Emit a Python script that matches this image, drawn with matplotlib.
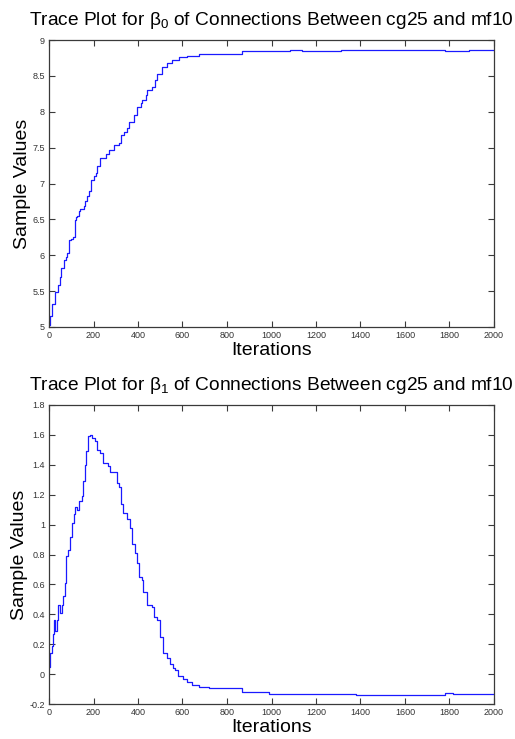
import matplotlib
matplotlib.use("Agg")
import matplotlib.pyplot as plt

plt.rcParams["font.family"] = ["Liberation Sans", "DejaVu Sans"]
plt.rcParams["mathtext.fontset"] = "custom"
plt.rcParams["mathtext.rm"] = "Liberation Sans"
plt.rcParams["mathtext.it"] = "Liberation Sans"

# Metropolis trace for beta_0: iterations where the chain moved, and the new value
b0_iter = [0, 5, 14, 27, 40, 49, 54, 67, 75, 82, 91, 99, 106, 115, 120, 126, 134,
           141, 156, 164, 172, 179, 191, 200, 209, 216, 231, 254, 270, 292, 315,
           322, 335, 352, 360, 382, 397, 412, 420, 435, 442, 465, 478, 487, 510,
           532, 555, 585, 622, 675, 866, 985, 1083, 1137, 1312, 1780, 1888, 2000]
b0_vals = [5.03, 5.15, 5.32, 5.49, 5.58, 5.70, 5.82, 5.93, 5.98, 6.03, 6.21, 6.23,
           6.25, 6.49, 6.53, 6.55, 6.62, 6.65, 6.68, 6.76, 6.83, 6.90, 7.05, 7.10,
           7.15, 7.25, 7.35, 7.41, 7.46, 7.53, 7.57, 7.68, 7.72, 7.77, 7.86, 7.96,
           8.07, 8.12, 8.17, 8.24, 8.30, 8.35, 8.44, 8.52, 8.63, 8.68, 8.72, 8.77,
           8.78, 8.81, 8.84, 8.85, 8.86, 8.85, 8.86, 8.84, 8.86, 8.86]

# Metropolis trace for beta_1
b1_iter = [0, 4, 12, 17, 23, 27, 34, 42, 49, 57, 64, 72, 77, 87, 94, 102, 112, 118,
           127, 135, 147, 154, 160, 166, 177, 184, 192, 207, 214, 229, 244, 267,
           274, 297, 304, 316, 322, 334, 349, 364, 372, 387, 397, 406, 417, 424,
           442, 462, 472, 484, 499, 514, 529, 544, 556, 567, 582, 604, 619, 642,
           672, 717, 866, 989, 1380, 1780, 1814, 2000]
b1_vals = [0.05, 0.14, 0.19, 0.27, 0.36, 0.29, 0.36, 0.46, 0.41, 0.46, 0.52, 0.61,
           0.79, 0.83, 0.92, 1.01, 1.07, 1.12, 1.10, 1.16, 1.19, 1.29, 1.40, 1.49,
           1.59, 1.60, 1.58, 1.56, 1.50, 1.48, 1.41, 1.39, 1.35, 1.35, 1.28, 1.25,
           1.14, 1.08, 1.04, 0.98, 0.87, 0.81, 0.74, 0.65, 0.63, 0.55, 0.46, 0.45,
           0.38, 0.36, 0.25, 0.14, 0.11, 0.07, 0.04, 0.03, -0.01, -0.03, -0.05,
           -0.07, -0.085, -0.095, -0.118, -0.134, -0.14, -0.128, -0.134, -0.134]

x_ticks = list(range(0, 2001, 200))
b0_ticks = [5, 5.5, 6, 6.5, 7, 7.5, 8, 8.5, 9]
b0_ticklabels = ["5", "5.5", "6", "6.5", "7", "7.5", "8", "8.5", "9"]
b1_ticks = [-0.2, 0, 0.2, 0.4, 0.6, 0.8, 1.0, 1.2, 1.4, 1.6, 1.8]
b1_ticklabels = ["-0.2", "0", "0.2", "0.4", "0.6", "0.8", "1", "1.2", "1.4", "1.6", "1.8"]

W, H = 515, 739
fig = plt.figure(figsize=(W / 100, H / 100), dpi=100)
fig.patch.set_facecolor("white")

axis_col = "#3a3a3a"


def style(ax, yticks, yticklabels, ylim):
    ax.set_xlim(0, 2000)
    ax.set_ylim(*ylim)
    ax.set_xticks(x_ticks)
    ax.set_xticklabels([str(t) for t in x_ticks])
    ax.set_yticks(yticks)
    ax.set_yticklabels(yticklabels)
    ax.tick_params(direction="in", length=4, width=0.8, color=axis_col,
                   labelsize=6.5, labelcolor="#333333", top=True, right=True,
                   pad=3)
    for s in ax.spines.values():
        s.set_color(axis_col)
        s.set_linewidth(0.9)
    ax.set_xlabel("Iterations", fontsize=14, labelpad=1)
    ax.set_ylabel("Sample Values", fontsize=14, labelpad=1)


ax0 = fig.add_axes([49 / W, (H - 327) / H, 445 / W, 287 / H])
ax0.plot(b0_iter, b0_vals, drawstyle="steps-post", color="#1a1aff", lw=0.9)
style(ax0, b0_ticks, b0_ticklabels, (5, 9))
ax0.set_title(r"Trace Plot for $\beta_0$ of Connections Between cg25 and mf10",
              fontsize=13.8, pad=11)

ax1 = fig.add_axes([49 / W, (H - 704) / H, 445 / W, 299 / H])
ax1.plot(b1_iter, b1_vals, drawstyle="steps-post", color="#1a1aff", lw=0.9)
style(ax1, b1_ticks, b1_ticklabels, (-0.2, 1.8))
ax1.set_title(r"Trace Plot for $\beta_1$ of Connections Between cg25 and mf10",
              fontsize=13.8, pad=11)

fig.savefig("out.png", dpi=100)
